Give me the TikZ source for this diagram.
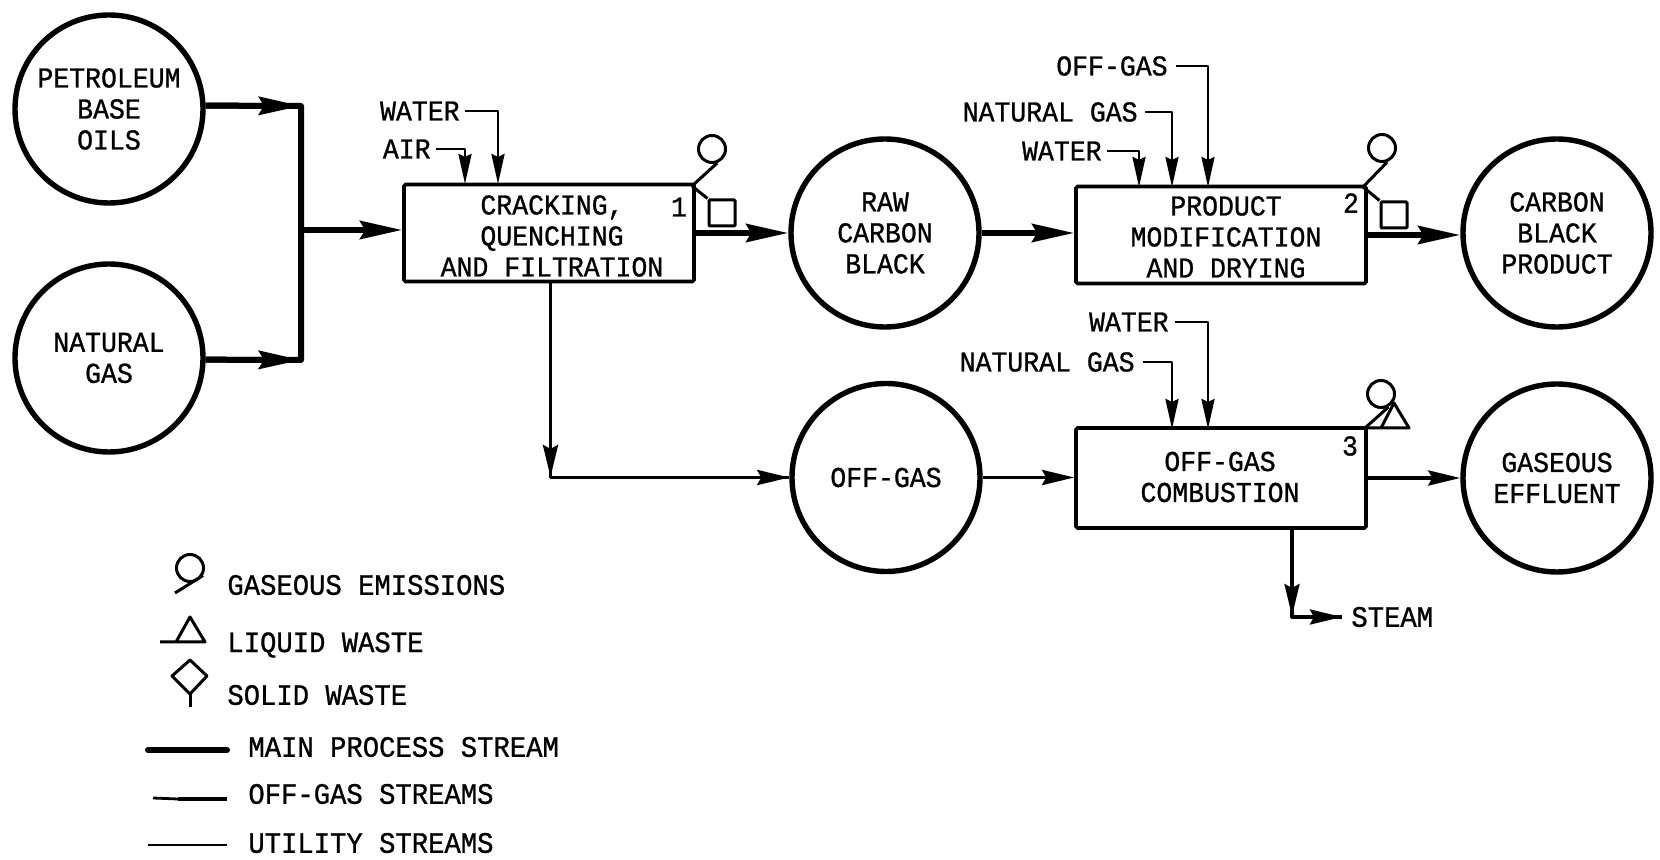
\documentclass[tikz,border=0pt]{standalone}
\usepackage{fontspec}
\setmainfont{Liberation Mono}[FakeStretch=0.92,FakeBold=0.9]
\usetikzlibrary{arrows.meta}
\tikzset{
  txt/.style={inner sep=0pt,align=center,font=\fontsize{14.4}{15.5}\selectfont},
  lbl/.style={txt,anchor=west,font=\fontsize{14.8}{15.5}\selectfont},
  lblr/.style={txt,anchor=east},
  circ/.style={draw,circle,line width=2.7pt,minimum size=94pt,inner sep=0pt,txt},
  boxn/.style={draw,rectangle,line width=1.8pt,minimum width=145pt,minimum height=48.5pt,inner sep=0pt,txt,rounded corners=0.8pt},
  mainl/.style={line width=3pt,line join=round},
  offl/.style={line width=1.9pt,line join=round},
  steaml/.style={line width=1.6pt,line join=round},
  utill/.style={line width=1.4pt,line join=round},
  sym/.style={line width=1.5pt,line join=round},
  symc/.style={draw,circle,line width=1.5pt,minimum size=13.5pt,inner sep=0pt},
  syms/.style={draw,rectangle,line width=1.5pt,minimum size=13pt,inner sep=0pt,rounded corners=0.5pt},
  mtip/.style={-{Stealth[length=21pt,width=9pt,inset=2.5pt]}},
  otip/.style={-{Stealth[length=16pt,width=7.5pt,inset=2pt]}},
  utip/.style={-{Stealth[length=15pt,width=6.5pt,inset=1.5pt]}},
}
\begin{document}
\begin{tikzpicture}[x=0.5pt,y=-0.5pt]
\useasboundingbox (0,0) rectangle (1660,860);
% circles
\node[circ] (P) at (109,109) {PETROLEUM\\BASE\\OILS};
\node[circ] (N) at (109,358) {NATURAL\\GAS};
\node[circ] (R) at (885,233) {RAW\\CARBON\\BLACK};
\node[circ] (C) at (1557,233) {CARBON\\BLACK\\PRODUCT};
\node[circ] (O) at (886,477.5) {OFF-GAS};
\node[circ] (G) at (1557,478) {GASEOUS\\EFFLUENT};
% boxes
\node[boxn] (b1) at (549,233) {};
\node[boxn] (b2) at (1221,235) {};
\node[boxn,minimum height=50pt] (b3) at (1221,478) {};
\node[txt] (t1) at (552,236) {CRACKING,\\QUENCHING\\AND FILTRATION};
\node[txt] (t2) at (1226,237) {PRODUCT\\MODIFICATION\\AND DRYING};
\node[txt] (t3) at (1220,477) {OFF-GAS\\COMBUSTION};
\node[txt] (n1) at (679,207) {1};
\node[txt] (n2) at (1351,203) {2};
\node[txt] (n3) at (1350,446) {3};
% stream labels
\node[lblr] (lw1) at (460,111) {WATER};
\node[lblr] (la1) at (431,149) {AIR};
\node[lblr] (lo2) at (1168,66) {OFF-GAS};
\node[lblr] (ln2) at (1138,112) {NATURAL GAS};
\node[lblr] (lw2) at (1102,151) {WATER};
\node[lblr] (lw3) at (1169,322) {WATER};
\node[lblr] (ln3) at (1135,362) {NATURAL GAS};
\node[lbl] (ls) at (1351,617) {STEAM};
% coordinates
\coordinate (j1) at (301,106);
\coordinate (j2) at (301,360);
\coordinate (j3) at (301,230);
\coordinate (b1w) at (498,184);
\coordinate (b1a) at (465,184);
\coordinate (b2o) at (1208,187);
\coordinate (b2n) at (1172,187);
\coordinate (b2w) at (1139,187);
\coordinate (b3w) at (1208,429);
\coordinate (b3n) at (1172,429);
\coordinate (b1s) at (550.5,282);
\coordinate (b1v) at (550.5,477);
\coordinate (b3s) at (1292,527);
\coordinate (b3v) at (1292,616);
\coordinate (st) at (1342,617);
% main streams
\draw[mainl] (P.2) -- (j1) -- (j2) -- (N.-1);
\draw[mainl,mtip] (P.2) -- (j1);
\draw[mainl,mtip] (N.-1) -- (j2);
\draw[mainl,mtip] (j3) -- (j3 -| b1.west);
\draw[mainl,mtip] (b1.east) -- (b1.east -| R.west);
\draw[mainl,mtip] (R.east) -- (R.east -| b2.west);
\draw[mainl,mtip] (b2.east) -- (b2.east -| C.west);
% off-gas streams
\draw[offl] (b1s) |- (O.west);
\draw[offl,otip] (b1s) -- (b1v);
\draw[offl,otip] (b1s |- O.west) -- (O.west);
\draw[offl,otip] (O.east) -- (O.east -| b3.west);
\draw[offl,otip] (b3.east) -- (b3.east -| G.west);
\draw[steaml] (b3s) |- (st);
\draw[steaml,otip] (b3s) -- (b3v);
\draw[steaml,otip] (b3s |- st) -- (st);
% utilities
\draw[utill,utip] (lw1.east) ++(5,0) -| (b1w);
\draw[utill,utip] (la1.east) ++(5,0) -| (b1a);
\draw[utill,utip] (lo2.east) ++(8,0) -| (b2o);
\draw[utill,utip] (ln2.east) ++(7,0) -| (b2n);
\draw[utill,utip] (lw2.east) ++(5,0) -| (b2w);
\draw[utill,utip] (lw3.east) ++(6,0) -| (b3w);
\draw[utill,utip] (ln3.east) ++(8,0) -| (b3n);
% emission symbols
\coordinate (c1) at (692,186);
\coordinate (c2) at (1363,187);
\coordinate (c3) at (1365,428);
\node[symc] (g1) at (712,149) {};
\node[syms] (s1) at (722,213) {};
\draw[sym] (c1) -- (g1.-70);
\draw[sym] (c1) -- (s1.north west);
\node[symc] (g2) at (1382,148) {};
\node[syms] (s2) at (1394,215) {};
\draw[sym] (c2) -- (g2.-70);
\draw[sym] (c2) -- (s2.north west);
\node[symc] (g3) at (1381,394) {};
\draw[sym] (c3) -- (g3.-60);
\draw[sym] (1381,428) -- (1394,403) -- (1409,428) -- (c3);
% legend
\node[symc] (lg) at (190,568) {};
\coordinate (lgt) at (175,593);
\draw[sym] (lgt) -- (lg.-30);
\draw[sym] (160,642) -- (205,642) -- (190,617) -- (176,642);
\draw[sym] (190,660) -- (207,676) -- (190,694) -- (172,676) -- cycle;
\draw[sym] (190,694) -- (190,707);
\node[lbl] (e1) at (227,585) {GASEOUS EMISSIONS};
\node[lbl] (e2) at (227,645) {LIQUID WASTE};
\node[lbl] (e3) at (227,695) {SOLID WASTE};
\node[lbl] (e4) at (248,747) {MAIN PROCESS STREAM};
\node[lbl] (e5) at (248,794) {OFF-GAS STREAMS};
\node[lbl] (e6) at (248,843) {UTILITY STREAMS};
\coordinate (m1) at (148,750);
\coordinate (o1) at (153,798);
\coordinate (o2) at (178,799);
\coordinate (u1) at (148,845);
\draw[mainl,line cap=round] (m1) -- (m1 -| e3.west);
\draw[utill] (o1) -- (o2);
\draw[offl] (o2) -- (o2 -| e3.west);
\draw[utill] (u1) -- (u1 -| e3.west);
\end{tikzpicture}
\end{document}
